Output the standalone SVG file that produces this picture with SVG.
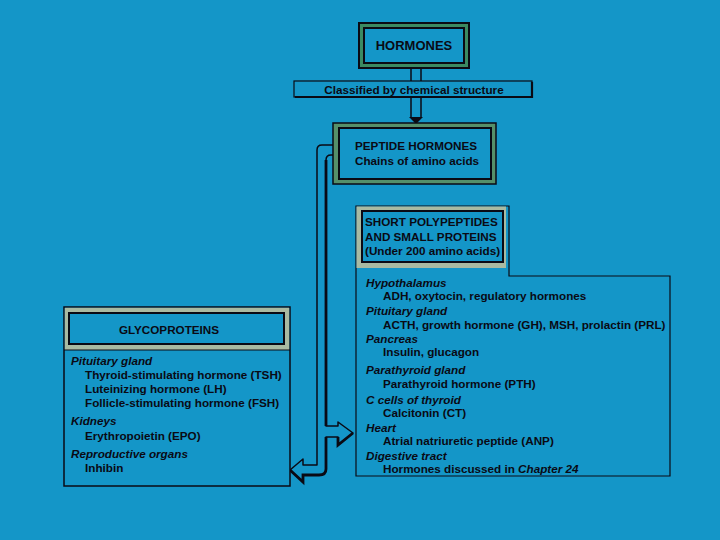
<svg xmlns="http://www.w3.org/2000/svg" width="720" height="540" viewBox="0 0 720 540">
<defs>
<style>
.t{font-family:"Liberation Sans",Arial,Helvetica,sans-serif;font-size:11.7px;font-weight:bold;fill:#0a0a14}
.i{font-style:italic}
.c{text-anchor:middle}
.ln{fill:none;stroke:#0a0a14}
.box{fill:#1496c8;stroke:#0a0a14;stroke-width:2}
</style>
</defs>
<rect width="720" height="540" fill="#1496c8"/>
<g id="connectors">
<path d="M411,67 L411,82 M421,67 L421,82" class="ln" stroke-width="1.5"/>
<rect x="411.5" y="96" width="9" height="22" fill="#1496c8"/>
<path d="M411,96 L411,118 M421,96 L421,118" class="ln" stroke-width="1.5"/>
<path d="M409,117 L423,117 L416,124 Z" fill="#0a0a14"/>
<path d="M333,145 L322,145 Q317,145 317,150 L317,465 L303,465 L303,459 L290,470 L303,482 L303,475 L319,475 Q326,475 326,469 L326,437 L338,437 L338,445 L353,433 L338,422 L338,426 L326,426 L326,160 Q326,155 331,155 L333,155" fill="#1496c8" stroke="#0a0a14" stroke-width="1.5" stroke-linejoin="round"/>
<path d="M326,160 L326,426 M338,437 L338,445 L353,433 M326,437 L326,469 Q326,475 319,475 L303,475 L303,482 L290,470" class="ln" stroke-width="2.8"/>
</g>
<g id="hormones">
<rect x="359" y="23" width="110" height="45" fill="#3b8a62" stroke="#0a0a14" stroke-width="2"/>
<rect x="364" y="28" width="100" height="35" class="box"/>
<text x="414" y="50" class="t c" style="font-size:13px">HORMONES</text>
</g>
<g id="classified">
<rect x="294" y="81" width="238" height="16" fill="#1496c8" stroke="#0a0a14" stroke-width="1.2"/>
<path d="M295,97 L532,97 L532,82" class="ln" stroke-width="2.2"/>
<text x="414" y="94" class="t c">Classified by chemical structure</text>
</g>
<g id="peptide">
<rect x="333" y="123" width="163" height="61" fill="#55906a" stroke="#0a0a14" stroke-width="1.5"/>
<rect x="339" y="128" width="152" height="51" class="box"/>
<text x="355" y="150" class="t">PEPTIDE HORMONES</text>
<text x="355" y="165" class="t">Chains of amino acids</text>
</g>
<g id="short-polypeptides">
<path d="M356,206 L509,206 L509,276 L670,276 L670,476 L356,476 Z" fill="#1496c8" stroke="#0a0a14" stroke-width="1.2"/>
<path d="M356.5,206.5 L506,206.5 L506,268 L356.5,268 Z" fill="#a9baa2"/>
<rect x="362" y="211" width="141" height="51" class="box"/>
<text x="365" y="226" class="t">SHORT POLYPEPTIDES</text>
<text x="365" y="240.5" class="t">AND SMALL PROTEINS</text>
<text x="365" y="255" class="t">(Under 200 amino acids)</text>
<text x="366" y="286.5" class="t i">Hypothalamus</text>
<text x="383" y="299.5" class="t">ADH, oxytocin, regulatory hormones</text>
<text x="366" y="315" class="t i">Pituitary gland</text>
<text x="383" y="328.5" class="t">ACTH, growth hormone (GH), MSH, prolactin (PRL)</text>
<text x="366" y="342.5" class="t i">Pancreas</text>
<text x="383" y="356" class="t">Insulin, glucagon</text>
<text x="366" y="373.5" class="t i">Parathyroid gland</text>
<text x="383" y="388" class="t">Parathyroid hormone (PTH)</text>
<text x="366" y="403.5" class="t i">C cells of thyroid</text>
<text x="383" y="417" class="t">Calcitonin (CT)</text>
<text x="366" y="431.5" class="t i">Heart</text>
<text x="383" y="445" class="t">Atrial natriuretic peptide (ANP)</text>
<text x="366" y="459.5" class="t i">Digestive tract</text>
<text x="383" y="473" class="t">Hormones discussed in <tspan class="i">Chapter 24</tspan></text>
</g>
<g id="glycoproteins">
<rect x="64" y="307" width="226" height="179" fill="#1496c8" stroke="#0a0a14" stroke-width="1.5"/>
<rect x="64.8" y="307.8" width="224.4" height="42.2" fill="#a9baa2"/>
<line x1="64" y1="350" x2="290" y2="350" stroke="#0a0a14" stroke-width="1"/>
<rect x="69" y="313" width="215" height="31" class="box"/>
<text x="169" y="333.5" class="t c">GLYCOPROTEINS</text>
<text x="71" y="365" class="t i">Pituitary gland</text>
<text x="85" y="379" class="t">Thyroid-stimulating hormone (TSH)</text>
<text x="85" y="392.5" class="t">Luteinizing hormone (LH)</text>
<text x="85" y="406.5" class="t">Follicle-stimulating hormone (FSH)</text>
<text x="71" y="425" class="t i">Kidneys</text>
<text x="85" y="439.5" class="t">Erythropoietin (EPO)</text>
<text x="71" y="457.5" class="t i">Reproductive organs</text>
<text x="85" y="472" class="t">Inhibin</text>
</g>
</svg>
